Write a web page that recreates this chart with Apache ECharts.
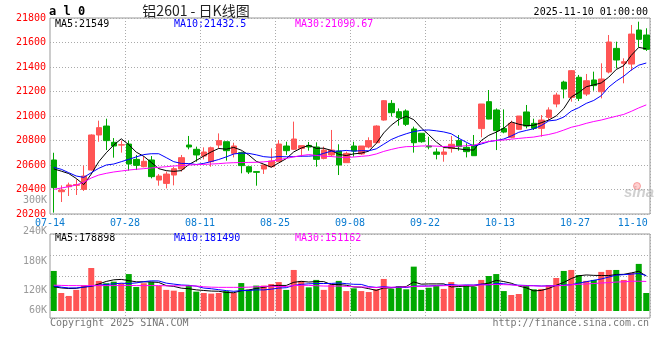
<!DOCTYPE html>
<html><head><meta charset="utf-8">
<script src="https://cdn.jsdelivr.net/npm/echarts@6/dist/echarts.min.js"></script>
<style>html,body{margin:0;padding:0;background:#fff}#c{width:660px;height:360px}</style>
</head><body><div id="c"></div>
<script>
const dates = ['07-14','07-15','07-16','07-17','07-18','07-21','07-22','07-23','07-24','07-25','07-28','07-29','07-30','07-31',
'08-01','08-04','08-05','08-06','08-07','08-08','08-11','08-12','08-13','08-14','08-15','08-18','08-19','08-20','08-21','08-22','08-25','08-26','08-27','08-28','08-29',
'09-01','09-02','09-03','09-04','09-05','09-08','09-09','09-10','09-11','09-12','09-15','09-16','09-17','09-18','09-19','09-22','09-23','09-24','09-25','09-26','09-29','09-30',
'10-09','10-10','10-13','10-14','10-15','10-16','10-17','10-20','10-21','10-22','10-23','10-24','10-27','10-28','10-29','10-30','10-31',
'11-03','11-04','11-05','11-06','11-07','11-10'];
const tickLabels = ['07-14','07-28','08-11','08-25','09-08','09-22','10-13','10-27','11-10'];
const priceTicks = [20200, 21800, 200];
const volTickLabels = ['300K','240K','180K','120K','60K'];

const opens = [20641,20382,20423,20434,20401,20559,20845,20918,20785,20763,
20771,20646,20586,20641,20477,20450,20518,20567,20763,20728,
20673,20627,20763,20790,20695,20701,20586,20546,20567,20586,
20627,20755,20728,20736,20760,20747,20654,20682,20714,20619,
20755,20690,20747,20782,20967,21103,21035,21041,20894,20859,
20755,20706,20687,20736,20799,20744,20763,20897,21117,21049,
20897,20826,20891,21033,20940,20899,20989,21098,21277,21152,
21316,21179,21294,21198,21359,21552,21430,21424,21702,21661];
const closes = [20415,20396,20437,20440,20510,20845,20905,20799,20755,20765,
20608,20597,20630,20505,20510,20526,20570,20660,20747,20682,
20706,20741,20799,20717,20755,20595,20543,20540,20600,20633,
20771,20717,20812,20758,20747,20646,20722,20722,20600,20695,
20714,20755,20799,20918,21125,21027,20986,20932,20782,20790,
20747,20687,20706,20769,20750,20709,20676,21098,20975,20880,
20869,20940,21000,20918,20899,20967,21049,21171,21220,21370,
21144,21288,21248,21302,21604,21457,21443,21669,21626,21544];
const highs = [20700,20434,20456,20483,20595,20850,20962,20978,20820,20799,
20799,20682,20673,20673,20526,20546,20586,20682,20837,20750,
20744,20750,20858,20790,20782,20709,20586,20546,20600,20736,
20804,20790,20954,20758,20788,20785,20750,20886,20769,20709,
20790,20755,20826,20924,21130,21130,21062,21054,20913,20859,
20831,20736,20736,20837,20845,20777,20845,21098,21212,21062,
21054,20962,21000,21090,20978,21008,21071,21190,21288,21375,
21335,21343,21362,21430,21661,21607,21471,21743,21770,21716];
const lows = [20211,20298,20347,20355,20388,20554,20790,20722,20660,20701,
20554,20559,20581,20491,20431,20409,20434,20546,20728,20627,
20646,20586,20736,20635,20662,20532,20527,20431,20527,20581,
20627,20682,20722,20668,20717,20586,20646,20668,20518,20619,
20668,20682,20736,20777,20962,20995,20921,20918,20701,20782,
20728,20646,20627,20701,20717,20662,20676,20826,20973,20722,
20859,20818,20886,20899,20886,20831,20962,21071,21144,21117,
21122,21163,21207,21144,21348,21389,21267,21370,21560,21531];

const ma5 = [20568,20550,20530,20490,20440,20526,20627,20700,20763,20814,
20766,20705,20671,20621,20570,20554,20548,20554,20603,20637,
20673,20707,20735,20729,20744,20721,20682,20630,20607,20582,
20617,20652,20707,20738,20761,20736,20737,20719,20687,20677,
20691,20697,20713,20776,20862,20925,20971,20998,20970,20903,
20847,20788,20742,20740,20732,20724,20722,20800,20842,20868,
20900,20952,20933,20921,20925,20945,20967,21001,21061,21155,
21191,21239,21254,21270,21317,21380,21411,21495,21560,21549];
const ma10 = [20581,20565,20537,20510,20499,20537,20573,20600,20608,20627,
20646,20666,20685,20692,20692,20660,20627,20613,20612,20604,
20613,20628,20645,20666,20690,20697,20695,20683,20668,20663,
20669,20667,20668,20672,20672,20677,20695,20713,20713,20719,
20713,20717,20716,20732,20770,20808,20834,20855,20873,20883,
20886,20879,20870,20855,20818,20786,20755,20771,20791,20800,
20812,20837,20867,20882,20896,20922,20960,20967,20991,21040,
21068,21103,21127,21166,21236,21285,21325,21375,21415,21432.5];
const ma30 = [20401,20412,20423,20437,20459,20494,20518,20532,20543,20551,
20559,20565,20570,20576,20581,20586,20592,20595,20600,20603,
20605,20608,20611,20616,20619,20620,20621,20622,20626,20631,
20643,20654,20666,20677,20685,20678,20672,20669,20664,20662,
20665,20671,20676,20690,20711,20727,20741,20750,20751,20755,
20756,20754,20751,20753,20753,20757,20761,20780,20792,20801,
20804,20811,20817,20823,20828,20839,20849,20864,20885,20908,
20922,20940,20955,20967,20983,20998,21013,21038,21066,21090.67];

// volumes in thousands
const volumes = [205,92,77,108,132,220,154,142,150,142,
189,123,142,148,128,108,104,97,133,99,
92,89,92,102,92,143,109,130,130,138,
148,108,210,154,121,159,108,135,154,102,
116,102,97,111,164,113,128,111,227,108,
119,128,113,148,118,133,124,159,179,189,
102,82,87,133,111,113,133,169,205,210,
184,154,159,200,210,210,159,195,241,92];
const volMa5 = [124,118,115,116,122.8,125.8,138.2,151.2,159.6,161.6,
155.4,149.2,149.2,148.8,146,129.8,126,117,114,108.2,
105,102,101,94.8,93.4,103.6,107.6,115.2,120.8,130,
131,130.8,146.8,151.6,148.2,150.4,150.4,135.4,135.4,131.6,
123,121.8,114.2,105.6,118,117.4,122.6,125.4,148.6,137.4,
138.6,138.6,139,123.2,125.2,128,127.2,136.4,142.6,156.8,
150.6,142.2,127.8,118.6,103,105.2,115.4,131.8,146.2,166,
180.2,184.4,182.4,181.4,181.4,186.6,187.6,194.8,203,178.898];
const volMa10 = [128,122,118,118,122,128,132,136,139,142.2,
140.6,143.7,150.2,154.2,153.8,142.6,137.6,133.1,131.4,127.1,
117.4,114,109,104.4,100.8,104.3,104.8,108.1,107.8,111.7,
117.3,119.2,131,136.2,139.1,140.7,140.6,141.1,143.5,139.9,
136.7,136.1,124.8,120.5,124.8,120.2,122.2,119.8,127.1,127.7,
128,130.6,132.2,135.9,131.3,133.3,132.9,137.7,132.9,141,
139.3,134.7,132.1,130.6,129.9,127.9,128.8,129.8,132.4,134.5,
142.7,149.9,157.1,163.8,173.7,183.4,186,188.6,192.2,181.49];
const volMa30 = [132,131,130,130,129,130,130,130,130,131,
131,130,130,130,130,129,129,129,129,128,
124,122,121,121,121,121,122,124,126,127,
125.1,125.6,130.1,131.6,131.2,129.2,127.7,127.4,127.6,126.2,
123.8,123.1,121.6,120.4,121.6,121.7,122.5,123,126.1,126.4,
127.3,128.6,129.3,130.9,131.7,131.4,131.9,132.9,134.5,136.2,
134.7,133.8,129.7,129,128.7,127.1,128,129.1,130.8,134.4,
136.7,138.4,140.5,143.4,145,148.2,149.2,152,152.5,151.162];

const RED = '#ff5555', GREEN = '#00a800';
const MONO = '"DejaVu Sans Mono", "Liberation Mono", monospace';
const GRIDC = '#aaaaaa';
const DOT = [1, 2];
const lastIdx = dates.length - 1;

function tickLabelFor(i) {
  if (i === lastIdx) return tickLabels[tickLabels.length - 1];
  return tickLabels[i / 10];
}

const chart = echarts.init(document.getElementById('c'), null, {renderer: 'canvas'});

function txt(x, y, text, fill, font, align, valign) {
  return {type: 'text', x: x, y: y, silent: true,
    style: {text: text, fill: fill, font: font, align: align || 'left', verticalAlign: valign || 'middle'}};
}

const volLabelY = [200, 231, 261, 290, 310];
const graphics = [
  txt(49, 12, 'a l 0', '#000', 'bold 12px ' + MONO),
  txt(196, 11, '铝2601 - 日K线图', '#222', '14px "Noto Sans CJK SC"', 'center'),
  txt(648, 12, '2025-11-10 01:00:00', '#000', '10px ' + MONO, 'right'),
  txt(55, 24, 'MA5:21549', '#000', '10px ' + MONO),
  txt(174, 24, 'MA10:21432.5', '#0000ff', '10px ' + MONO),
  txt(295, 24, 'MA30:21090.67', '#ff00ff', '10px ' + MONO),
  txt(55, 238, 'MA5:178898', '#000', '10px ' + MONO),
  txt(174, 238, 'MA10:181490', '#0000ff', '10px ' + MONO),
  txt(295, 238, 'MA30:151162', '#ff00ff', '10px ' + MONO),
  txt(50, 323, 'Copyright 2025 SINA.COM', '#777', '10px ' + MONO),
  txt(649, 323, 'http://finance.sina.com.cn', '#777', '10px ' + MONO, 'right'),
  txt(624, 193, 'sina', 'rgba(170,170,170,0.55)', 'italic bold 15px "Liberation Sans"'),
  {type: 'circle', silent: true, shape: {cx: 637, cy: 186, r: 3.5}, style: {fill: 'rgba(255,120,120,0.35)', stroke: 'rgba(240,90,90,0.5)'}}
];
volTickLabels.forEach((t, k) => graphics.push(txt(47, volLabelY[k], t, '#999', '10px ' + MONO, 'right')));

const option = {
  animation: false,
  backgroundColor: '#fff',
  grid: [
    {left: 50, right: 10, top: 18, height: 196, show: true, borderColor: '#999', borderWidth: 1},
    {left: 50, right: 10, top: 234, height: 84, show: true, borderColor: '#999', borderWidth: 1},
    {left: 50, right: 10, top: 234, height: 77}
  ],
  xAxis: [
    {type: 'category', gridIndex: 0, data: dates, boundaryGap: true,
     axisLine: {show: false}, axisTick: {show: false},
     splitLine: {show: true, interval: (i) => i > 0 && i % 10 === 0, lineStyle: {color: GRIDC, type: DOT}},
     axisLabel: {show: true, interval: (i) => i % 10 === 0 || i === lastIdx, margin: 4,
       formatter: (v, i) => (i === lastIdx ? '{e|' : '{n|') + tickLabelFor(i) + '}',
       rich: {
         n: {color: '#0a7bd0', fontFamily: MONO, fontSize: 10, padding: [0, 7.5, 0, 0]},
         e: {color: '#0a7bd0', fontFamily: MONO, fontSize: 10, padding: [0, 27, 0, 0]}
       }}},
    {type: 'category', gridIndex: 1, data: dates, boundaryGap: true,
     axisLine: {show: false}, axisTick: {show: false}, axisLabel: {show: false},
     splitLine: {show: true, interval: (i) => i > 0 && i % 10 === 0, lineStyle: {color: GRIDC, type: DOT}}},
    {type: 'category', gridIndex: 2, data: dates, boundaryGap: true, show: false}
  ],
  yAxis: [
    {type: 'value', gridIndex: 0, min: priceTicks[0], max: priceTicks[1], interval: priceTicks[2], scale: true,
     axisLine: {show: false}, axisTick: {show: false},
     splitLine: {show: true, lineStyle: {color: GRIDC, type: DOT}},
     axisLabel: {color: '#ff0000', fontFamily: MONO, fontSize: 10, margin: 4, padding: [0, 0, 3, 0],
       formatter: (v) => String(v)}},
    {type: 'value', gridIndex: 1, min: 0, max: 4, interval: 1,
     axisLine: {show: false}, axisTick: {show: false}, axisLabel: {show: false},
     splitLine: {show: true, lineStyle: {color: GRIDC, type: DOT}}},
    {type: 'value', gridIndex: 2, min: 0, max: 394, show: false, splitLine: {show: false}}
  ],
  series: [
    {type: 'candlestick', xAxisIndex: 0, yAxisIndex: 0, barWidth: 6,
     data: opens.map((o, i) => [o, closes[i], lows[i], highs[i]]),
     itemStyle: {color: RED, color0: GREEN, borderColor: RED, borderColor0: GREEN, borderWidth: 1}},
    {type: 'line', xAxisIndex: 0, yAxisIndex: 0, data: ma5, symbol: 'none', silent: true, lineStyle: {color: '#000', width: 1}, z: 5},
    {type: 'line', xAxisIndex: 0, yAxisIndex: 0, data: ma10, symbol: 'none', silent: true, lineStyle: {color: '#0000ff', width: 1}, z: 5},
    {type: 'line', xAxisIndex: 0, yAxisIndex: 0, data: ma30, symbol: 'none', silent: true, lineStyle: {color: '#ff00ff', width: 1}, z: 5},
    {type: 'bar', xAxisIndex: 2, yAxisIndex: 2, barWidth: 6,
     data: volumes.map((v, i) => ({value: v, itemStyle: {color: closes[i] >= opens[i] ? RED : GREEN}}))},
    {type: 'line', xAxisIndex: 2, yAxisIndex: 2, data: volMa5, symbol: 'none', silent: true, lineStyle: {color: '#000', width: 1}, z: 5},
    {type: 'line', xAxisIndex: 2, yAxisIndex: 2, data: volMa10, symbol: 'none', silent: true, lineStyle: {color: '#0000ff', width: 1}, z: 5},
    {type: 'line', xAxisIndex: 2, yAxisIndex: 2, data: volMa30, symbol: 'none', silent: true, lineStyle: {color: '#ff00ff', width: 1}, z: 5}
  ],
  graphic: graphics
};
chart.setOption(option);
</script></body></html>
